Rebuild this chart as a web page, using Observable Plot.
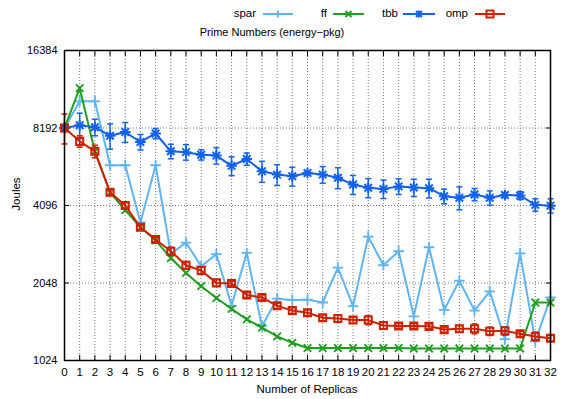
<!DOCTYPE html>
<html>
<head>
<meta charset="utf-8">
<script src="https://cdn.jsdelivr.net/npm/d3@7"></script>
<script src="https://cdn.jsdelivr.net/npm/@observablehq/plot@0.6"></script>
<style>
  html, body { margin: 0; padding: 0; background: #fff; }
  #wrap { position: relative; width: 561px; height: 399px; font-family: "Liberation Sans", Arial, Helvetica, sans-serif; font-size: 11px; color: #000; }
  .ov { position: absolute; white-space: nowrap; line-height: 1; }
</style>
</head>
<body>
<div id="wrap"><div id="chart"></div></div>
<script>
// ---- data ----
const replicas = [0,1,2,3,4,5,6,7,8,9,10,11,12,13,14,15,16,17,18,19,20,21,22,23,24,25,26,27,28,29,30,31,32];
const yTicks = [1024, 2048, 4096, 8192, 16384];
const seriesNames = ["spar", "ff", "tbb", "omp"];
const spar = [8192,10400,10400,5870,5870,3520,5870,2660,2940,2380,2650,1670,2680,1390,1780,1760,1765,1720,2350,1665,3100,2400,2720,1520,2820,1610,2090,1600,1900,1240,2670,1215,1800];
const ff   = [8192,11700,6650,4600,3930,3370,3000,2560,2240,1990,1790,1625,1480,1375,1270,1200,1145,1145,1145,1145,1145,1145,1145,1140,1140,1140,1140,1140,1140,1140,1140,1720,1720];
const tbb  = [8192,8400,8250,7640,7900,7230,7800,6650,6600,6450,6400,5840,6210,5560,5400,5320,5480,5400,5250,4940,4800,4750,4860,4810,4780,4450,4390,4520,4390,4500,4480,4120,4090];
const tbbErr = [150,950,610,860,700,500,360,430,455,300,470,490,340,520,500,450,80,400,490,420,410,390,340,370,400,290,450,250,280,100,160,230,260];
const omp  = [8192,7270,6650,4610,4096,3370,3020,2720,2400,2290,2050,2040,1840,1800,1670,1600,1570,1500,1490,1470,1470,1400,1395,1395,1390,1350,1360,1360,1330,1335,1300,1270,1250];
const ompErr = [1090,370,370,120,100,80,60,100,80,80,60,40,40,40,40,40,40,40,50,40,60,40,30,30,30,30,40,60,50,50,30,50,30];
const colors = ["#5fb4f2", "#1f9f1f", "#1262ee", "#cc2200"];

// ---- table ----
const values = {spar, ff, tbb, omp};
const errs = {tbb: tbbErr, omp: ompErr};
const rows = [];
for (const s of seriesNames) {
  replicas.forEach((r, i) => {
    const e = errs[s] ? errs[s][i] : 0;
    rows.push({s, x: r, y: values[s][i], lo: values[s][i] - e, hi: values[s][i] + e});
  });
}
const col = Object.fromEntries(seriesNames.map((s, i) => [s, colors[i]]));
const of = s => rows.filter(d => d.s === s);
const errRows = rows.filter(d => d.s === "tbb" || d.s === "omp");
const cap = 0.2;

const seriesMarks = [];
for (const s of seriesNames) {
  const data = of(s);
  seriesMarks.push(Plot.line(data, {x: "x", y: "y", stroke: col[s], strokeWidth: 2}));
  if (errs[s]) {
    seriesMarks.push(Plot.ruleX(data, {x: "x", y1: "lo", y2: "hi", stroke: col[s], strokeWidth: 1.5}));
    seriesMarks.push(Plot.link(data, {x1: d => d.x - cap, x2: d => d.x + cap, y1: "lo", y2: "lo", stroke: col[s], strokeWidth: 1.5}));
    seriesMarks.push(Plot.link(data, {x1: d => d.x - cap, x2: d => d.x + cap, y1: "hi", y2: "hi", stroke: col[s], strokeWidth: 1.5}));
  }
  if (s === "spar") seriesMarks.push(Plot.dot(data, {x: "x", y: "y", symbol: "plus", r: 3.5, stroke: col[s], strokeWidth: 1.8}));
  if (s === "ff") seriesMarks.push(Plot.dot(data, {x: "x", y: "y", symbol: "times", r: 3.5, stroke: col[s], strokeWidth: 1.8}));
  if (s === "tbb") {
    seriesMarks.push(Plot.dot(data, {x: "x", y: "y", symbol: "plus", r: 3.5, stroke: col[s], strokeWidth: 2}));
    seriesMarks.push(Plot.dot(data, {x: "x", y: "y", symbol: "times", r: 3.5, stroke: col[s], strokeWidth: 2}));
    seriesMarks.push(Plot.dot(data, {x: "x", y: "y", symbol: "square", r: 1.8, fill: col[s]}));
  }
  if (s === "omp") seriesMarks.push(Plot.dot(data, {x: "x", y: "y", symbol: "square", r: 4, stroke: col[s], fill: "none", strokeWidth: 2}));
}

const chart = Plot.plot({
  width: 561, height: 399,
  marginLeft: 64, marginRight: 11, marginTop: 50, marginBottom: 39,
  style: {fontFamily: "'Liberation Sans', Arial, Helvetica, sans-serif", fontSize: "11px", background: "#fff", color: "#000"},
  x: {domain: [0, 32]},
  y: {type: "log", base: 2, domain: [1024, 16384]},
  marks: [
    Plot.ruleX(replicas, {stroke: "#777", strokeWidth: 1, strokeDasharray: "1,2"}),
    Plot.ruleY(yTicks, {stroke: "#777", strokeWidth: 1, strokeDasharray: "1,2"}),
    Plot.axisX({ticks: replicas, tickSize: -5, tickPadding: 12, tickFormat: d => String(d), label: null, fontSize: 11.5}),
    Plot.axisX({anchor: "top", ticks: replicas, tickSize: -5, tickFormat: () => "", label: null}),
    Plot.axisY({ticks: yTicks, tickSize: -5, tickPadding: 12, tickFormat: d => String(d), label: null, fontSize: 11}),
    Plot.axisY({anchor: "right", ticks: yTicks, tickSize: -5, tickFormat: () => "", label: null}),
    ...seriesMarks,
    Plot.frame({stroke: "#000", strokeWidth: 1.5})
  ]
});
document.getElementById("chart").appendChild(chart);

// ---- overlays: title, axis labels, legend ----
const wrap = document.getElementById("wrap");
function addText(txt, css) {
  const d = document.createElement("div");
  d.className = "ov";
  d.textContent = txt;
  Object.assign(d.style, css);
  wrap.appendChild(d);
  return d;
}
addText("Prime Numbers (energy\u2212pkg)", {left: "272px", top: "32px", transform: "translate(-50%,-50%)"});
addText("Number of Replicas", {left: "307px", top: "390px", transform: "translate(-50%,-50%)", fontSize: "11.5px"});
addText("Joules", {left: "17px", top: "194px", transform: "translate(-50%,-50%) rotate(-90deg)", fontSize: "11.5px"});

const legendItems = [
  {s: "spar", textEnd: 256, x0: 263, x1: 293},
  {s: "ff", textEnd: 327, x0: 333, x1: 364},
  {s: "tbb", textEnd: 398, x0: 403, x1: 435},
  {s: "omp", textEnd: 468, x0: 475, x1: 505}
];
const ns = "http://www.w3.org/2000/svg";
const lsvg = document.createElementNS(ns, "svg");
lsvg.setAttribute("width", 561); lsvg.setAttribute("height", 28);
Object.assign(lsvg.style, {position: "absolute", left: "0px", top: "0px"});
wrap.appendChild(lsvg);
const ly = 14;
for (const it of legendItems) {
  addText(it.s, {right: (561 - it.textEnd) + "px", top: ly + "px", transform: "translateY(-50%)", fontSize: "11.5px"});
  const c = col[it.s], m = (it.x0 + it.x1) / 2;
  let g = `<line x1="${it.x0}" x2="${it.x1}" y1="${ly}" y2="${ly}" stroke="${c}" stroke-width="2"/>`;
  if (it.s === "spar") g += `<path d="M${m-3.5},${ly}h7M${m},${ly-3.5}v7" stroke="${c}" stroke-width="1.8"/>`;
  if (it.s === "ff") g += `<path d="M${m-3},${ly-3}l6,6M${m-3},${ly+3}l6,-6" stroke="${c}" stroke-width="1.8"/>`;
  if (it.s === "tbb") g += `<path d="M${m-3.5},${ly}h7M${m},${ly-3.5}v7M${m-3},${ly-3}l6,6M${m-3},${ly+3}l6,-6" stroke="${c}" stroke-width="2"/>`;
  if (it.s === "omp") g += `<rect x="${m-3.5}" y="${ly-3.5}" width="7" height="7" fill="none" stroke="${c}" stroke-width="2"/>`;
  lsvg.insertAdjacentHTML("beforeend", g);
}
</script>
</body>
</html>
